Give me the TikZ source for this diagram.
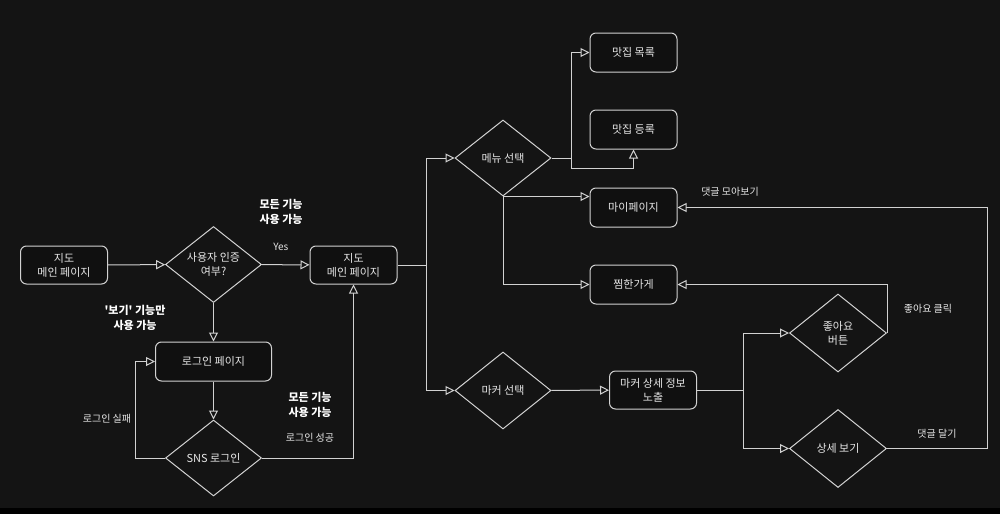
\documentclass[tikz,border=0pt]{standalone}
\usepackage{fontspec}
\setmainfont{Noto Sans CJK KR}
\usetikzlibrary{shapes.geometric,arrows.meta}
\definecolor{bg}{HTML}{141414}
\definecolor{bx}{HTML}{101010}
\definecolor{ln}{HTML}{D2D2D2}
\definecolor{tx}{HTML}{E6E6E6}
\tikzset{
  box/.style={draw=ln, line width=1pt, fill=bx, rounded corners=6pt, minimum width=87pt, minimum height=38pt,
    inner sep=0pt, align=center, text=tx, font=\fontsize{11}{14}\selectfont},
  dia/.style={draw=ln, line width=1pt, diamond, aspect=1.25, minimum width=96pt, minimum height=76pt,
    inner sep=0pt, align=center, text=tx, font=\fontsize{11}{14}\selectfont},
  arr/.style={draw=ln, line width=1pt, -{Triangle[open,length=9pt,width=9pt]}},
  lne/.style={draw=ln, line width=1pt},
  lbl/.style={text=tx, font=\fontsize{10}{12}\selectfont},
  note/.style={text=white, align=center, font=\bfseries\fontsize{11}{15}\selectfont},
}
\begin{document}
\begin{tikzpicture}[x=1pt, y=-1pt]
          \fill[bg] (0,0) rectangle (1000,508);
          \fill[black] (0,508) rectangle (1000,514);
          \useasboundingbox (0,0) rectangle (1000,514);
          \node[box] (M1) at (64, 265) {지도\\메인 페이지};
          \node[dia] (D1) at (213.5, 264.5) {사용자 인증\\여부?};
          \node[box] (M2) at (353.5, 265) {지도\\메인 페이지};
          \node[box, minimum width=116pt, minimum height=39pt] (LG) at (213.5, 361.5) {로그인 페이지};
          \node[dia] (SNS) at (213.5, 458) {SNS 로그인};
          \node[dia] (MN) at (503, 158) {메뉴 선택};
          \node[box, minimum height=39pt] (L1) at (633.5, 52.5) {맛집 목록};
          \node[box, minimum height=39pt] (L2) at (633.5, 129.5) {맛집 등록};
          \node[box, minimum height=39pt] (MY) at (633.5, 207.5) {마이페이지};
          \node[box, minimum height=39pt] (ZZ) at (633.5, 284.5) {찜한가게};
          \node[dia, minimum height=77pt] (MK) at (503, 390.5) {마커 선택};
          \node[box] (DT) at (653, 390) {마커 상세 정보\\노출};
          \node[dia, minimum width=97pt, minimum height=78pt] (LK) at (838, 333) {좋아요\\버튼};
          \node[dia, minimum width=97pt, minimum height=78pt] (VW) at (838, 448.5) {상세 보기};
          \node[note] (N1) at (281, 212) {모든 기능\\사용 가능};
          \node[note] (N2) at (135, 318) {\textquotesingle 보기\textquotesingle{} 기능만\\사용 가능};
          \node[note] (N3) at (310, 405) {모든 기능\\사용 가능};
          \node[lbl] (T1) at (107, 419) {로그인 실패};
          \node[lbl] (T2) at (310, 438) {로그인 성공};
          \node[lbl] (T3) at (730, 192) {댓글 모아보기};
          \node[lbl] (T4) at (928, 309) {좋아요 클릭};
          \node[lbl] (T5) at (937, 434) {댓글 달기};
          \coordinate (J) at (426, 265);
          \coordinate (K) at (571, 158);
          \coordinate (Q) at (743, 390);
          \draw [arr] (M1) -- (D1);
          \draw [arr] (D1) -- node [lbl, pos=0.4, above=10pt] {Yes} (M2);
          \draw [arr] (D1) -- (LG);
          \draw [arr] (LG) -- (SNS);
          \draw [arr] (SNS.west) -- ++(-29.5,0) |- (LG.west);
          \draw [arr] (SNS.east) -| (M2.south);
          \draw [lne] (M2.east) -- (J);
          \draw [arr] (J) |- (MN.west);
          \draw [arr] (J) |- (MK.west);
          \draw [lne] (MN.east) -- (K);
          \draw [arr] (K) |- (L1.west);
          \draw [arr] (K) -- ++(0,10) -| (L2.south);
          \draw [arr] (MN.south) -- (MN.south -| MY.west);
          \draw [arr] (MN.south) |- (ZZ.west);
          \draw [arr] (MK) -- (DT);
          \draw [lne] (DT.east) -- (Q);
          \draw [arr] (Q) |- (LK.west);
          \draw [arr] (Q) |- (VW.west);
          \draw [arr] (LK.east) |- (ZZ.east);
          \draw [arr] (VW.east) -- ++(100,0) |- (MY.east);
  \end{tikzpicture}
\end{document}
